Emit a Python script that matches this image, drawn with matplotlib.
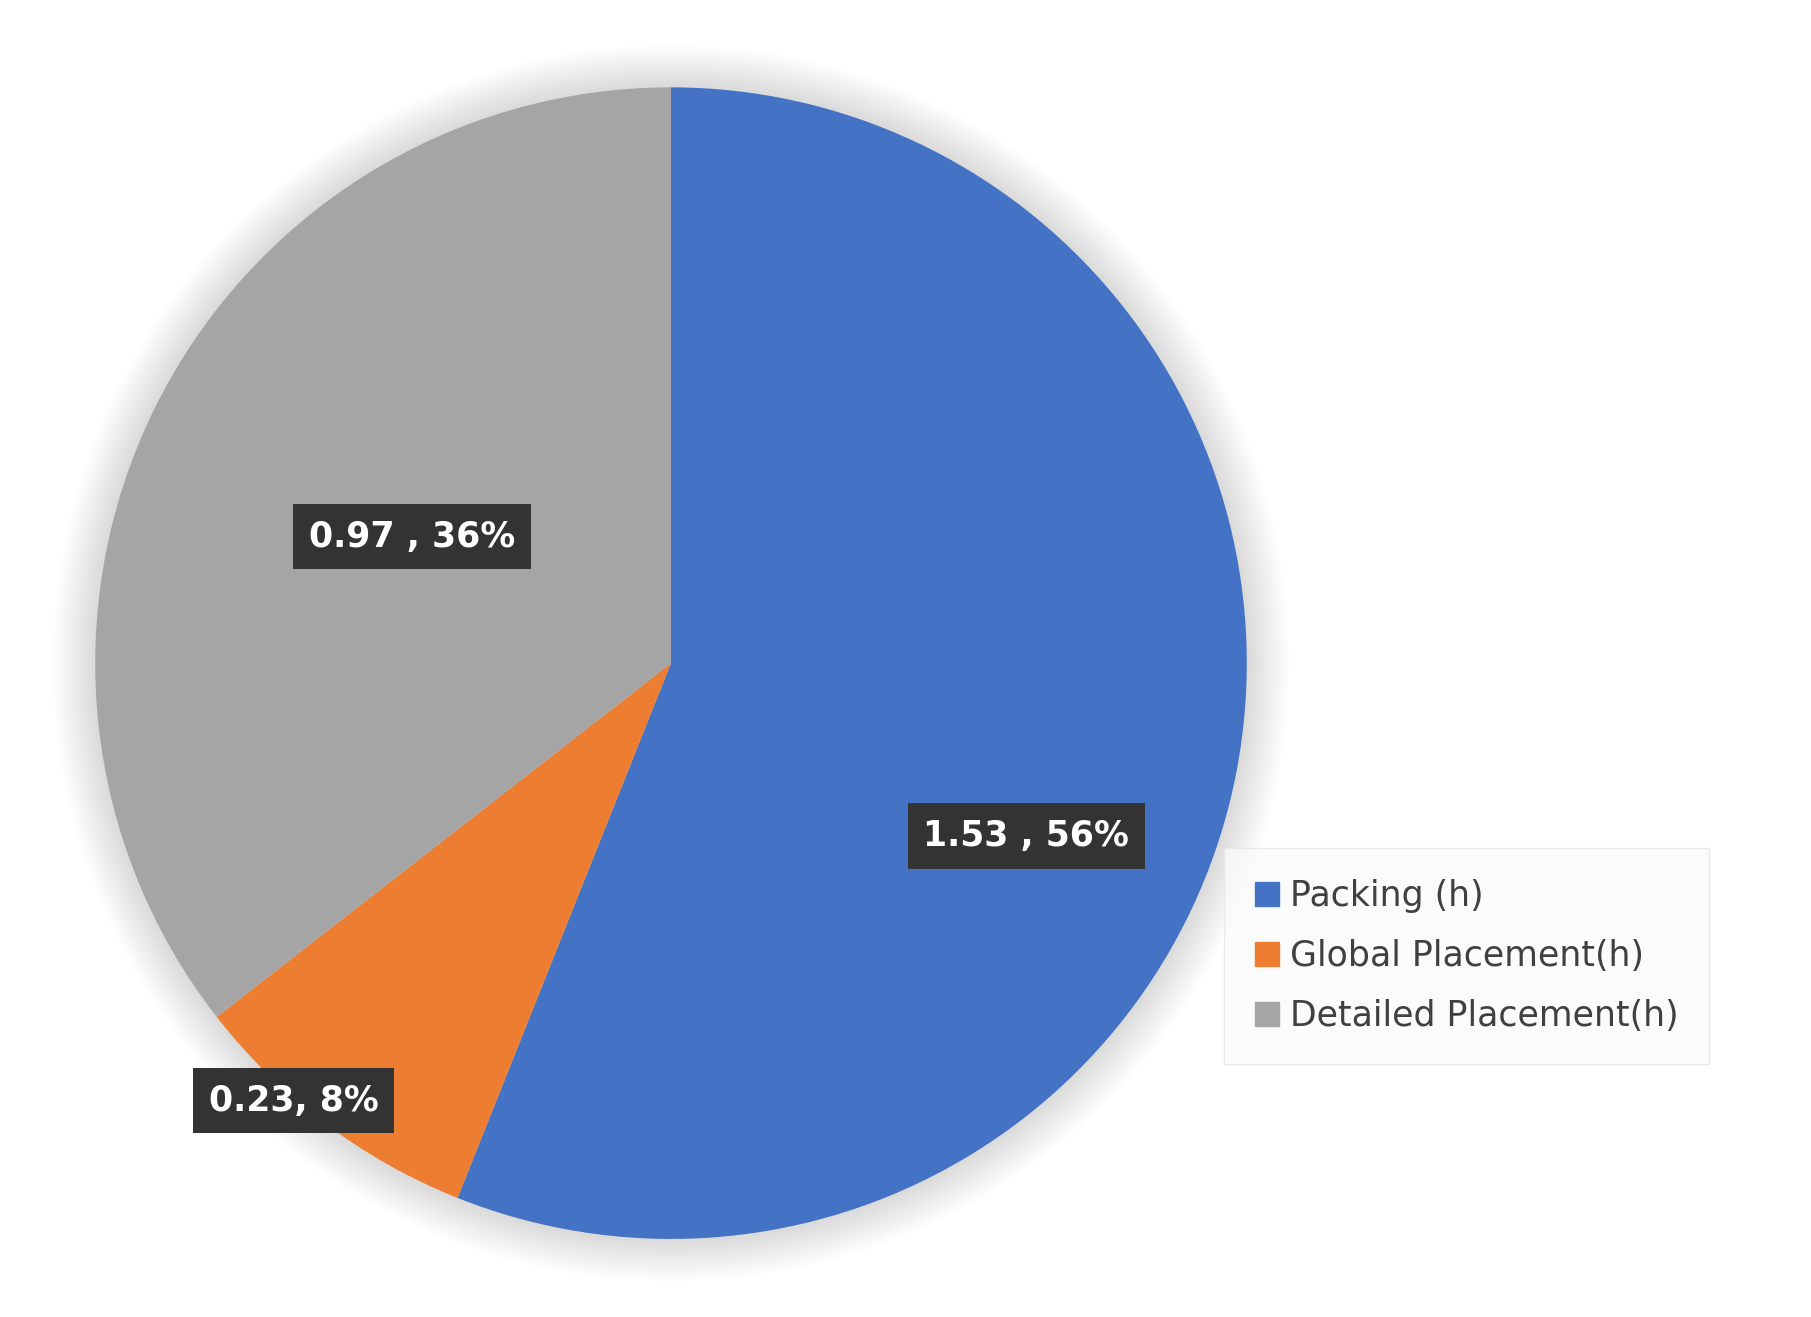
import matplotlib.pyplot as plt
from matplotlib.patches import Circle

labels = ["Packing (h)", "Global Placement(h)", "Detailed Placement(h)"]
values = [1.53, 0.23, 0.97]
pcts = ["56%", "8%", "36%"]
texts = ["1.53 , 56%", "0.23, 8%", "0.97 , 36%"]
colors = ["#4472C4", "#ED7D31", "#A5A5A5"]

W, H = 1560, 1134
fig = plt.figure(figsize=(18.11, 13.17), dpi=100)
ax = fig.add_axes([0, 0, 1, 1])
ax.set_xlim(0, W)
ax.set_ylim(0, H)
ax.set_aspect("equal")
ax.axis("off")

cx, cy, r = 578, H - 571, 496

# soft shadow
for i in range(12):
    ax.add_patch(Circle((cx, cy), r + 3 + i * 3, color="black", alpha=0.012, lw=0, zorder=0))

ax.pie(values, colors=colors, startangle=90, counterclock=False,
       center=(cx, cy), radius=r, frame=True,
       wedgeprops=dict(linewidth=0), normalize=True)
ax.set_xlim(0, W)
ax.set_ylim(0, H)
ax.axis("off")

label_pos = [(884, 720), (253, 948), (355, 462)]
for t, (x, y) in zip(texts, label_pos):
    ax.text(x, H - y, t, ha="center", va="center", fontsize=25, fontweight="bold",
            color="white", zorder=5,
            bbox=dict(boxstyle="square,pad=0.45", fc="#333333", ec="none"))

handles = [plt.Rectangle((0, 0), 1, 1, color=c) for c in colors]
leg = ax.legend(handles, labels, loc="upper left", bbox_to_anchor=(1048 / W, 1 - 724 / H),
                fontsize=25, frameon=True, handlelength=0.7, handleheight=0.7,
                handletextpad=0.3, labelspacing=0.75, borderpad=0.6, labelcolor="#404040")
leg.get_frame().set_edgecolor("#E5E5E5")
leg.get_frame().set_facecolor("#FAFAFA")
leg.get_frame().set_boxstyle("square")

fig.savefig("out.png", dpi=100)
